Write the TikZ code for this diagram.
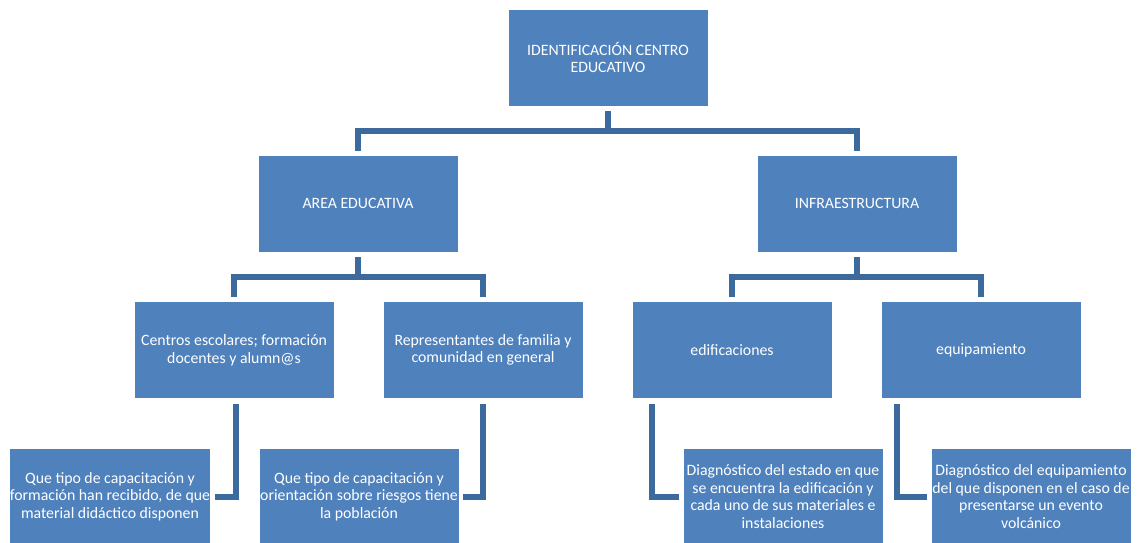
\documentclass[tikz,border=0pt]{standalone}
\usepackage{fontspec}
\setmainfont{Carlito}
\usepackage{xcolor}
\usetikzlibrary{positioning,calc}

\definecolor{boxblue}{HTML}{4F81BD}
\definecolor{linkblue}{HTML}{3D6A9C}

\begin{document}
\begin{tikzpicture}[x=1pt,y=-1pt,
    box/.style={draw=white,line width=0.8pt,fill=boxblue,text=white,align=center,
      minimum width=200pt,minimum height=97pt,inner xsep=0pt,
      font=\fontsize{15.8}{17.6}\selectfont},
    link/.style={draw=linkblue,line width=6pt,shorten <=5pt,shorten >=4pt}]
  \useasboundingbox (0,0) rectangle (1145,542);

  \node[box] (centre) at (608,57.5) {IDENTIFICACIÓN CENTRO\\EDUCATIVO};

  \node[box] (area) at (358,203.5) {AREA EDUCATIVA};
  \node[box] (infra) at (857,203.5) {INFRAESTRUCTURA};

  \node[box] (escolar) at (234,350) {Centros escolares; formación\\docentes y alumn@s};
  \node[box] (familia) at (483,350) {Representantes de familia y\\comunidad en general};
  \node[box] (edif) at (732,350) {edificaciones};
  \node[box] (equipo) at (981,350) {equipamiento};

  \node[box] (capdoc) at (110,496.5) {Que tipo de capacitación y\\formación han recibido, de que\\material didáctico disponen};
  \node[box] (capfam) at (359,496.5) {Que tipo de capacitación y\\orientación sobre riesgos tiene\\la población};
  \node[box] (diagedif) at (783,496.5) {Diagnóstico del estado en que\\se encuentra la edificación y\\cada uno de sus materiales e\\instalaciones};
  \node[box] (diagequi) at (1031,496.5) {Diagnóstico del equipamiento\\del que disponen en el caso de\\presentarse un evento\\volcánico};

  % upper levels
  \draw[link] (centre.south) -- ++(0,25) -| (area.north);
  \draw[link] (centre.south) -- ++(0,25) -| (infra.north);
  \draw[link] (area.south) -- ++(0,25) -| (escolar.north);
  \draw[link] (area.south) -- ++(0,25) -| (familia.north);
  \draw[link] (infra.south) -- ++(0,25) -| (edif.north);
  \draw[link] (infra.south) -- ++(0,25) -| (equipo.north);

  % lowest level
  \draw[link] ([xshift=2pt]escolar.south) |- (capdoc.east);
  \draw[link] (familia.south) |- (capfam.east);
  \draw[link] ([xshift=20pt]edif.south west) |- (diagedif.west);
  \draw[link] ([xshift=16pt]equipo.south west) |- (diagequi.west);
\end{tikzpicture}
\end{document}
